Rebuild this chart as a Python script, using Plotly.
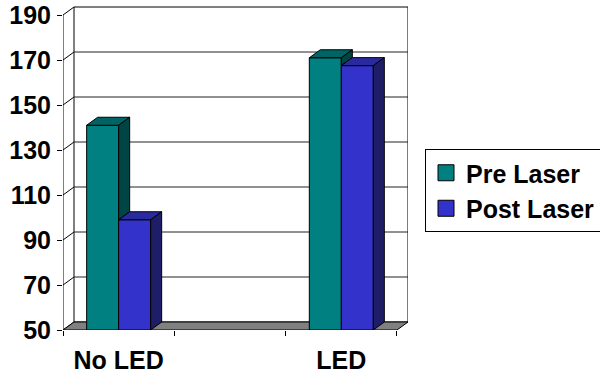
import plotly.graph_objects as go

# ---- data ----
categories = ["No LED", "", "LED"]
pre_laser = [141, None, 171]
post_laser = [99, None, 167.5]
y_ticks = [50, 70, 90, 110, 130, 150, 170, 190]
series_names = ["Pre Laser", "Post Laser"]

# ---- styling ----
PRE_FRONT, PRE_TOP, PRE_SIDE = "#008080", "#006464", "#004444"
POST_FRONT, POST_TOP, POST_SIDE = "#3333CC", "#2A2AA0", "#1E1E68"
FLOOR = "#808080"
FONT = "Liberation Sans, Arial, sans-serif"

# geometry of the pseudo-3D frame
M_L, M_R, M_T, M_B = 63, 192, 6, 47
W, H = 600, 377
plot_w = W - M_L - M_R
plot_h = H - M_T - M_B
PX_PER_CAT = 111.33
PX_PER_UNIT = 2.25
DEPTH_X_PX, DEPTH_Y_PX = 11, 8
DX = DEPTH_X_PX / PX_PER_CAT
DY = DEPTH_Y_PX / PX_PER_UNIT
N = len(categories)
Y0, Y1 = y_ticks[0], y_ticks[-1]
BAR_W = 32 / PX_PER_CAT

x_range = [0, plot_w / PX_PER_CAT]
y_range = [Y0, Y0 + plot_h / PX_PER_UNIT]
centers = [i + 0.5 for i in range(N)]

fig = go.Figure()

shapes = []
# back wall
shapes.append(dict(type="rect", xref="x", yref="y", x0=DX, x1=N + DX, y0=Y0 + DY, y1=Y1 + DY,
                   fillcolor="white", line=dict(color="black", width=1), layer="below"))
# back wall gridlines and left-wall diagonals
for v in y_ticks:
    if Y0 < v < Y1:
        shapes.append(dict(type="line", xref="x", yref="y", x0=DX, x1=N + DX, y0=v + DY, y1=v + DY,
                           line=dict(color="#222222", width=1), layer="below"))
    shapes.append(dict(type="line", xref="x", yref="y", x0=0, x1=DX, y0=v, y1=v + DY,
                       line=dict(color="black", width=1), layer="below"))
# front value axis
shapes.append(dict(type="line", xref="x", yref="y", x0=0, x1=0, y0=Y0, y1=Y1,
                   line=dict(color="black", width=1), layer="below"))
# floor
floor_path = f"M 0,{Y0} L {N},{Y0} L {N + DX},{Y0 + DY} L {DX},{Y0 + DY} Z"
shapes.append(dict(type="path", xref="x", yref="y", path=floor_path, fillcolor=FLOOR,
                   line=dict(color="black", width=1), layer="below"))

# front faces of the columns
fig.add_trace(go.Bar(x=centers, y=[None if v is None else v - Y0 for v in pre_laser], base=Y0,
                     width=BAR_W, offset=-BAR_W, marker=dict(color=PRE_FRONT, line=dict(color="black", width=1)),
                     name=series_names[0], showlegend=False, hoverinfo="skip"))
fig.add_trace(go.Bar(x=centers, y=[None if v is None else v - Y0 for v in post_laser], base=Y0,
                     width=BAR_W, offset=0, marker=dict(color=POST_FRONT, line=dict(color="black", width=1)),
                     name=series_names[1], showlegend=False, hoverinfo="skip"))


def face(xs, ys, color):
    fig.add_trace(go.Scatter(x=xs + [xs[0]], y=ys + [ys[0]], mode="lines", fill="toself",
                             fillcolor=color, line=dict(color="black", width=1),
                             showlegend=False, hoverinfo="skip"))


# top and side faces
for c, pre, post in zip(centers, pre_laser, post_laser):
    if pre is None:
        continue
    # pre laser column: side visible only above the neighbouring column
    x0, x1 = c - BAR_W, c
    face([x0, x1, x1 + DX, x0 + DX], [pre, pre, pre + DY, pre + DY], PRE_TOP)
    base = min(pre, post) if post is not None else Y0
    face([x1, x1, x1 + DX, x1 + DX], [base, pre, pre + DY, base + DY], PRE_SIDE)
    # post laser column
    x0, x1 = c, c + BAR_W
    face([x0, x1, x1 + DX, x0 + DX], [post, post, post + DY, post + DY], POST_TOP)
    face([x1, x1, x1 + DX, x1 + DX], [Y0, post, post + DY, Y0 + DY], POST_SIDE)

# legend entries
for name, col in zip(series_names, [PRE_FRONT, POST_FRONT]):
    fig.add_trace(go.Scatter(x=[None], y=[None], mode="markers", name=name, legendgroup=name,
                             marker=dict(symbol="square", size=16, color=col,
                                         line=dict(color="black", width=1))))

fig.update_layout(
    width=W, height=H,
    margin=dict(l=M_L, r=M_R, t=M_T, b=M_B, autoexpand=False),
    paper_bgcolor="white", plot_bgcolor="white",
    shapes=shapes,
    font=dict(family=FONT, color="black"),
    xaxis=dict(range=x_range, tickvals=centers, ticktext=categories, ticks="",
               showgrid=False, zeroline=False, showline=False, automargin=False,
               tickfont=dict(size=25, weight="bold"), ticklabelstandoff=13,
               minor=dict(tickvals=list(range(N + 1)), ticks="outside", ticklen=5,
                          tickcolor="black", showgrid=False)),
    yaxis=dict(range=y_range, tickvals=y_ticks, ticks="outside", ticklen=5, tickcolor="black",
               showgrid=False, zeroline=False, showline=False, automargin=False,
               tickfont=dict(size=25, weight="bold"), ticklabelstandoff=1),
    legend=dict(x=(425 - M_L) / plot_w, y=(330 - 149) / plot_h, xanchor="left", yanchor="top",
                bordercolor="black", borderwidth=1, bgcolor="white",
                font=dict(size=25, weight="bold"), tracegroupgap=0, itemsizing="trace"),
    showlegend=True,
)

fig.write_html("out.html")
